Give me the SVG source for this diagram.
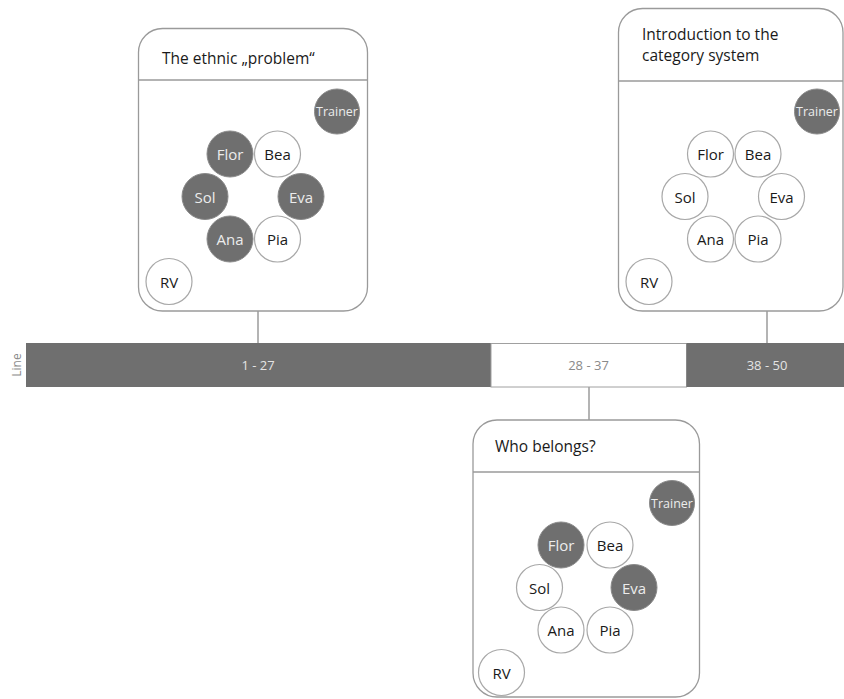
<svg xmlns="http://www.w3.org/2000/svg" width="844" height="699" viewBox="0 0 844 699">
<style>
.panel{fill:#fff;stroke:#9a9a9a;stroke-width:1.3}
.div{stroke:#9a9a9a;stroke-width:1.3}
.conn{stroke:#8c8c8c;stroke-width:1.3;fill:none}
.title{font-family:"Open Sans","Noto Sans",sans-serif;font-size:15.5px;fill:#1a1a1a}
.cw{fill:#fff;stroke:#a8a8a8;stroke-width:1.2}
.cd{fill:#6f6f6f;stroke:#8a8a8a;stroke-width:1}
.lw{font-family:"Open Sans","Noto Sans",sans-serif;font-size:15px;fill:#1a1a1a;text-anchor:middle;dominant-baseline:central}
.ld{font-family:"Open Sans","Noto Sans",sans-serif;font-size:15px;fill:#ececec;text-anchor:middle;dominant-baseline:central}
.lt{font-family:"Open Sans","Noto Sans",sans-serif;font-size:12.5px;fill:#ececec;text-anchor:middle;dominant-baseline:central}
.bar{fill:#6f6f6f}
.bart{font-family:"Open Sans","Noto Sans",sans-serif;font-size:13px;fill:#e4e4e4;text-anchor:middle}
</style>
<g id="connectors">
<line class="conn" x1="258" y1="311" x2="258" y2="343"/>
<line class="conn" x1="767" y1="311" x2="767" y2="343"/>
<line class="conn" x1="589" y1="387" x2="589" y2="420"/>
</g>
<g id="timeline">
<rect class="bar" x="26" y="343" width="465" height="44"/>
<rect x="491" y="343.5" width="195.5" height="43.5" fill="#fff" stroke="#a0a0a0" stroke-width="1"/>
<rect class="bar" x="686.5" y="343" width="158" height="44"/>
<text class="bart" x="258" y="370">1 - 27</text>
<text class="bart" x="588.5" y="370" style="fill:#8a8a8a">28 - 37</text>
<text class="bart" x="767" y="370">38 - 50</text>
<text x="16" y="365" transform="rotate(-90 16 365)" font-family="Open Sans, Noto Sans, sans-serif" font-size="12" fill="#8a8a8a" text-anchor="middle" dominant-baseline="central">Line</text>
</g>
<g id="panel-ethnic-problem">
<rect class="panel" x="138.5" y="28.5" width="229" height="282.5" rx="24"/>
<line class="div" x1="138.5" y1="80" x2="367.5" y2="80"/>
<text class="title" x="162" y="64">The ethnic „problem“</text>
<circle class="cd" cx="337" cy="111.5" r="22.5"/><text class="lt" x="337" y="111.5">Trainer</text>
<circle class="cd" cx="230" cy="154" r="23"/><text class="ld" x="230" y="154">Flor</text>
<circle class="cw" cx="277.5" cy="154" r="23"/><text class="lw" x="277.5" y="154">Bea</text>
<circle class="cd" cx="205" cy="196.5" r="23"/><text class="ld" x="205" y="196.5">Sol</text>
<circle class="cd" cx="301" cy="196.5" r="23"/><text class="ld" x="301" y="196.5">Eva</text>
<circle class="cd" cx="230" cy="239" r="23"/><text class="ld" x="230" y="239">Ana</text>
<circle class="cw" cx="277.5" cy="239" r="23"/><text class="lw" x="277.5" y="239">Pia</text>
<circle class="cw" cx="169" cy="281.5" r="23"/><text class="lw" x="169" y="281.5">RV</text>
</g>
<g id="panel-category-system">
<rect class="panel" x="618.5" y="8.5" width="224.5" height="302.5" rx="24"/>
<line class="div" x1="618.5" y1="81" x2="843" y2="81"/>
<text class="title" x="642" y="39.5">Introduction to the</text>
<text class="title" x="642" y="60.5">category system</text>
<circle class="cd" cx="817" cy="111.5" r="22.5"/><text class="lt" x="817" y="111.5">Trainer</text>
<circle class="cw" cx="710.5" cy="154" r="23"/><text class="lw" x="710.5" y="154">Flor</text>
<circle class="cw" cx="758" cy="154" r="23"/><text class="lw" x="758" y="154">Bea</text>
<circle class="cw" cx="685" cy="196.5" r="23"/><text class="lw" x="685" y="196.5">Sol</text>
<circle class="cw" cx="781.5" cy="196.5" r="23"/><text class="lw" x="781.5" y="196.5">Eva</text>
<circle class="cw" cx="710.5" cy="239" r="23"/><text class="lw" x="710.5" y="239">Ana</text>
<circle class="cw" cx="758" cy="239" r="23"/><text class="lw" x="758" y="239">Pia</text>
<circle class="cw" cx="649" cy="281.5" r="23"/><text class="lw" x="649" y="281.5">RV</text>
</g>
<g id="panel-who-belongs">
<rect class="panel" x="473" y="420" width="226.5" height="277" rx="24"/>
<line class="div" x1="473" y1="472" x2="699.5" y2="472"/>
<text class="title" x="495" y="452">Who belongs?</text>
<circle class="cd" cx="672" cy="503" r="22.5"/><text class="lt" x="672" y="503">Trainer</text>
<circle class="cd" cx="561" cy="545" r="23"/><text class="ld" x="561" y="545">Flor</text>
<circle class="cw" cx="610" cy="545" r="23"/><text class="lw" x="610" y="545">Bea</text>
<circle class="cw" cx="539.5" cy="587.5" r="23"/><text class="lw" x="539.5" y="587.5">Sol</text>
<circle class="cd" cx="634" cy="587.5" r="23"/><text class="ld" x="634" y="587.5">Eva</text>
<circle class="cw" cx="561" cy="630" r="23"/><text class="lw" x="561" y="630">Ana</text>
<circle class="cw" cx="610" cy="630" r="23"/><text class="lw" x="610" y="630">Pia</text>
<circle class="cw" cx="501.5" cy="672.5" r="23"/><text class="lw" x="501.5" y="672.5">RV</text>
</g>
</svg>
